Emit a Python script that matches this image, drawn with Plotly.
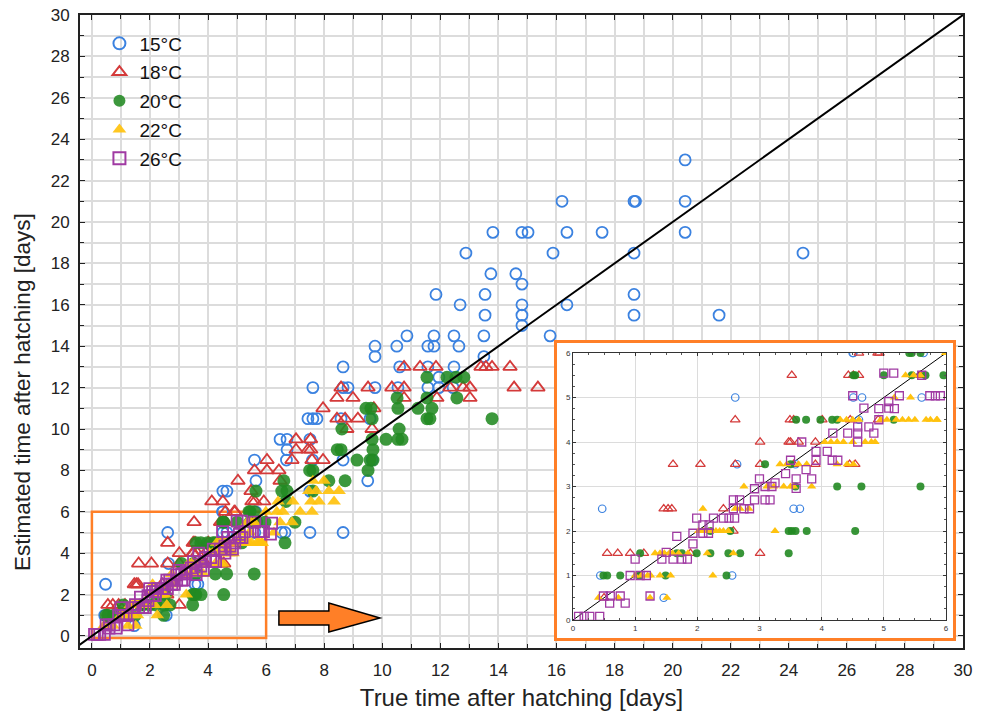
import plotly.graph_objects as go

# ---------------- data ----------------
x15 = [0.44, 0.47, 1.46, 2.56, 2.61, 2.64, 3.55, 3.58, 3.65, 4.5, 4.51, 4.6, 4.65, 5.61, 5.64,
       4.51, 4.51, 4.65, 5.65, 5.6, 6.53, 6.65, 7.51, 8.65, 7.51, 6.7, 7.6, 8.65, 9.65, 6.72,
       6.48, 6.72, 7.51, 7.44, 7.61, 7.75, 8.58, 9.58,
       7.61, 8.65, 8.82, 9.75, 10.54, 11.57, 11.95, 12.44, 11.95,
       8.65, 10.6, 11.57, 12.47, 9.75, 13.5,
       9.75, 10.5, 11.57, 11.78, 12.64,
       10.85, 11.78, 12.47, 13.5, 15.78, 14.81,
       13.54, 14.81, 18.67, 21.6, 12.68, 14.81, 16.36, 11.85, 13.54, 18.67, 14.81, 13.74, 14.6,
       12.88, 15.88, 18.67, 24.49, 13.81, 14.81, 15.02, 16.36, 17.57, 20.43,
       16.19, 18.67, 18.72, 20.43, 20.43, 9.5]
y15 = [1, 2.5, 0.5, 1, 5, 3.5, 2.5, 3.5, 2.5, 6, 5, 4.5, 5, 5, 6,
       6, 7, 7, 7.5, 8.5, 5, 5, 5, 5, 7, 8.5, 8.5, 8.5, 8.5, 9,
       9.5, 9.5, 9.5, 10.5, 10.5, 10.5, 10.5, 10.5,
       12, 12, 12, 12, 12, 12, 12, 12, 12.5,
       13, 13, 13, 13, 13.5, 13.5,
       14, 14, 14, 14, 14,
       14.5, 14.5, 14.5, 14.5, 14.5, 15,
       15.5, 15.5, 15.5, 15.5, 16, 16, 16, 16.5, 16.5, 16.5, 17, 17.5, 17.5,
       18.5, 18.5, 18.5, 18.5, 19.5, 19.5, 19.5, 19.5, 19.5, 19.5,
       21, 21, 21, 21, 23, 7.5]

x18 = [0.5, 0.55, 0.72, 0.92, 1.14, 1.89, 3.01, 1.46, 1.53, 1.59, 2.42, 2.58,
       1.61, 2.05, 2.61, 3.01, 3.55, 3.9, 4.45, 4.54,
       3.01, 3.47, 3.5, 3.63, 3.9,
       2.61, 3.49, 3.55, 4.01, 4.46, 4.91,
       3.52, 4.43, 4.51, 4.6, 5.59, 4.6, 4.9,
       4.93, 4.13, 4.51, 5.51, 5.61, 5.92, 5.48, 5.03, 6.48, 5.6, 6.03, 6.44,
       6.03, 6.89, 7.58, 7.96, 7.03, 7.44, 7.54, 7.03, 7.53,
       8.78, 9.65, 8.44, 8.72, 9.16, 7.96, 9.71, 8.44, 8.99, 10.75, 11.88, 13.02,
       8.58, 9.51, 10.33, 10.75, 12.33, 12.78, 13.02, 14.54, 15.36,
       10.75, 11.3, 11.85, 13.4, 13.57, 13.78, 14.4]
y18 = [0.5, 1.5, 1.5, 1.5, 1.5, 1.5, 1.5, 2.5, 2.5, 2.5, 2.5, 2,
       3.5, 3.5, 3.5, 3.5, 3.5, 3.5, 3.5, 3.5,
       4, 4, 4, 4, 4,
       4.5, 4.5, 4.5, 4.5, 4.5, 4.5,
       5.5, 5.5, 5.5, 5.5, 5.5, 6, 6,
       6, 6.5, 6.5, 6.5, 6.5, 6.5, 7, 7.5, 7.5, 8, 8, 8,
       8.5, 8.5, 8.5, 8.5, 9, 9, 9, 9.5, 9.5,
       10, 10, 10.5, 10.5, 10.5, 11, 11, 11.5, 11.5, 11.5, 11.5, 11.5,
       12, 12, 12, 12, 12, 12, 12, 12, 12,
       13, 13, 13, 13, 13, 13, 13]

x20 = [0.49, 0.55, 0.76, 1.07, 1.49, 2.47,
       1.08, 1.67, 1.75, 1.99, 2.21, 2.5, 2.69, 3.47,
       2.21, 2.53, 3.47, 3.52, 3.58, 3.76, 4.54,
       3.58, 4.25, 4.64, 5.59,
       3.09, 3.5,
       3.59, 3.75, 3.98, 4.17, 4.25, 5.16, 6.65,
       4.54, 5.0, 5.45, 5.67, 5.96, 4.51, 6.99,
       5.45, 5.59, 5.41,
       6.68, 5.65, 6.54, 6.72, 7.61, 6.61, 8.16, 8.72, 7.5, 7.61, 9.51,
       9.13, 9.58, 9.68, 8.45, 8.58, 9.68,
       9.65, 10.13, 10.54, 10.68, 8.61, 10.58,
       9.65, 11.54, 11.64, 13.78, 9.44, 9.61, 10.54, 11.23, 11.71,
       10.51, 11.54, 12.57, 11.54, 12.23, 12.54, 12.81]
y20 = [1, 1, 1, 1, 1, 1,
       1.5, 1.5, 1.5, 1.5, 1.5, 1.5, 1.5, 1.5,
       2, 2, 2, 2, 2, 2, 2,
       3, 3, 3, 3,
       3.5, 3.5,
       4.5, 4.5, 4.5, 4.5, 4.5, 4.5, 4.5,
       5.5, 5.5, 5.5, 5.5, 5.5, 5.5, 5.5,
       6, 6, 6,
       6.5, 7, 7, 7, 7, 7.5, 7.5, 7.5, 8, 8, 8,
       8.5, 8.5, 8.5, 9, 9, 9,
       9.5, 9.5, 9.5, 9.5, 10, 10,
       10.5, 10.5, 10.5, 10.5, 11, 11, 11, 11, 11,
       11.5, 11.5, 11.5, 12.5, 12.5, 12.5, 12.5]

x22 = [0.41, 0.73, 1.24, 1.51,
       1.0, 1.1, 1.2, 1.25, 1.4, 1.57, 2.25,
       1.32, 1.4, 1.47, 1.55, 1.6, 1.7, 1.85, 2.16, 2.58,
       2.02, 2.1, 2.2, 2.3, 2.36, 2.42, 2.5, 3.25,
       2.09, 2.61, 2.69, 2.83,
       2.75, 3.12, 3.23, 3.39, 3.5, 3.55, 3.84,
       3.33, 3.44, 3.63, 3.76, 4.25, 4.41, 4.51,
       4.05, 4.15, 4.25, 4.35, 4.5, 4.7, 4.8, 4.86,
       4.3, 4.4, 4.5, 4.6, 4.95, 5.05, 5.2, 5.3, 5.4, 5.5, 5.75, 5.85, 5.68, 5.86,
       5.17, 5.43, 6.27,
       5.35, 5.48, 5.59, 6.48, 6.89,
       5.99, 6.37, 6.58, 7.17, 7.58,
       6.41, 6.92, 7.54, 7.82, 8.34,
       7.47, 7.72, 8.16, 8.51,
       7.61, 7.99]
y22 = [0.5, 0.5, 0.5, 0.5,
       1, 1, 1, 1, 1, 1, 1,
       1.5, 1.5, 1.5, 1.5, 1.5, 1.5, 1.5, 1.5, 1.5,
       2, 2, 2, 2, 2, 2, 2, 2,
       2.5, 2.5, 2.5, 2.5,
       3, 3, 3, 3, 3, 3, 3,
       3.5, 3.5, 3.5, 3.5, 3.5, 3.5, 3.5,
       4, 4, 4, 4, 4, 4, 4, 4,
       4.5, 4.5, 4.5, 4.5, 4.5, 4.5, 4.5, 4.5, 4.5, 4.5, 4.5, 4.5, 4.5, 4.5,
       5, 5, 5,
       5.5, 5.5, 5.5, 5.5, 5.5,
       6, 6, 6, 6, 6,
       6.5, 6.5, 6.5, 6.5, 6.5,
       7, 7, 7, 7,
       7.5, 7.5]

x26 = [0.09, 0.18, 0.27, 0.43, 0.59, 0.84, 0.49, 0.6, 0.76, 1.24,
       0.92, 1.08, 1.18, 1.0, 1.43, 1.61, 1.75, 1.84, 1.5, 1.93, 1.67,
       1.93, 2.09, 2.18, 2.09, 2.19, 1.99, 2.26, 2.42, 2.51, 2.6,
       2.58, 2.75, 2.84, 2.58, 2.68, 2.92, 3.09, 3.17, 2.92, 3.09, 3.2, 3.59,
       3.0, 3.59, 3.84, 3.25, 3.42, 3.75,
       3.5, 3.91, 4.17, 4.26, 3.91, 4.09, 3.68, 4.58,
       4.18, 4.42, 4.58, 4.84, 4.58, 4.76, 4.92,
       4.68, 4.92, 5.08, 5.17, 5.08, 4.5, 5.25, 5.74, 5.83, 5.91,
       5.0, 5.16, 5.61, 6.15, 6.19]
y26 = [0.08, 0.08, 0.08, 0.08, 0.38, 0.38, 0.54, 0.54, 0.54, 0.54,
       1.0, 1.0, 1.0, 1.37, 1.37, 1.37, 1.37, 1.37, 1.52, 1.71, 1.88,
       1.95, 1.95, 1.95, 2.14, 2.14, 2.29, 2.29, 2.29, 2.29, 2.29,
       2.5, 2.5, 2.5, 2.7, 2.7, 2.7, 2.7, 2.7, 2.95, 3.0, 3.0, 2.96,
       3.17, 3.17, 3.17, 3.08, 3.29, 3.38,
       3.59, 3.59, 3.59, 3.59, 3.79, 3.79, 4.0, 4.0,
       4.2, 4.2, 4.2, 4.2, 4.34, 4.34, 4.5,
       4.76, 4.75, 4.76, 4.75, 4.91, 5.04, 5.04, 5.04, 5.04, 5.04,
       5.55, 5.55, 5.5, 4.92, 5.45]

series_names = ["15°C", "18°C", "20°C", "22°C", "26°C"]
series_x = [x15, x18, x20, x22, x26]
series_y = [y15, y18, y20, y22, y26]

identity = [-1, 30]
identity_inset = [0, 6]

x_title = "True time after hatching [days]"
y_title = "Estimated time after hatching [days]"

# ---------------- styles ----------------
BLUE = "#3b82e0"
RED = "#d43a3a"
GREEN = "#228a22"
YELLOW = "#ffc20e"
PURPLE = "#a03aa3"
ORANGE = "#ff7f27"
GRID = "#dcdcdc"

main_style = [
    dict(symbol="circle-open", size=11, color=BLUE, line=dict(width=1.8, color=BLUE)),
    dict(symbol="triangle-up-open", size=12, color=RED, line=dict(width=1.8, color=RED)),
    dict(symbol="circle", size=13, color=GREEN, opacity=0.88, line=dict(width=0)),
    dict(symbol="triangle-up", size=12, color=YELLOW, opacity=0.92, line=dict(width=0)),
    dict(symbol="square-open", size=11, color=PURPLE, line=dict(width=1.8, color=PURPLE)),
]
inset_style = [
    dict(symbol="circle-open", size=7.5, color=BLUE, line=dict(width=1.2, color=BLUE)),
    dict(symbol="triangle-up-open", size=8.5, color=RED, line=dict(width=1.2, color=RED)),
    dict(symbol="circle", size=8, color=GREEN, opacity=0.9, line=dict(width=0)),
    dict(symbol="triangle-up", size=8, color=YELLOW, line=dict(width=0)),
    dict(symbol="square-open", size=8, color=PURPLE, line=dict(width=1.3, color=PURPLE)),
]

fig = go.Figure()

for name, xs, ys, st in zip(series_names, series_x, series_y, main_style):
    fig.add_trace(go.Scatter(x=xs, y=ys, mode="markers", name=name, marker=st,
                             xaxis="x", yaxis="y", legendgroup=name))

fig.add_trace(go.Scatter(x=identity, y=identity, mode="lines", showlegend=False,
                         line=dict(color="black", width=2), xaxis="x", yaxis="y",
                         hoverinfo="skip"))

# white panel with orange frame that holds the inset
fig.add_trace(go.Scatter(x=[None], y=[None], mode="markers", showlegend=False,
                         xaxis="x2", yaxis="y2", hoverinfo="skip"))

fig.add_trace(go.Scatter(x=identity_inset, y=identity_inset, mode="lines", showlegend=False,
                         line=dict(color="black", width=1), xaxis="x3", yaxis="y3",
                         hoverinfo="skip"))
for name, xs, ys, st in zip(series_names, series_x, series_y, inset_style):
    fig.add_trace(go.Scatter(x=xs, y=ys, mode="markers", name=name, marker=st,
                             xaxis="x3", yaxis="y3", showlegend=False))

FONT = "Liberation Sans, Arial, sans-serif"

main_axis = dict(
    tickmode="linear", tick0=0, dtick=2,
    ticks="inside", ticklen=5, tickwidth=1, tickcolor="#222",
    showline=True, linecolor="#222", linewidth=2, mirror="allticks",
    showgrid=True, gridcolor=GRID, gridwidth=1.5,
    zeroline=False, automargin=False,
    tickfont=dict(size=17, color="#222", family=FONT),
    minor=dict(tick0=0, dtick=1, ticks="inside", ticklen=4, tickcolor="#222",
               showgrid=True, gridcolor=GRID, gridwidth=1.5),
)

# paper coords for the inset and its frame
xd_frame = [0.540, 0.9887]
yd_frame = [0.0158, 0.4818]
xd_inset = [0.5583, 0.9807]
yd_inset = [0.0442, 0.466]

fig.update_layout(
    width=988, height=712,
    margin=dict(l=80, r=25, t=15, b=64),
    paper_bgcolor="white", plot_bgcolor="white",
    font=dict(family=FONT, color="#222"),
    showlegend=True,
    legend=dict(x=0.022, y=0.985, xanchor="left", yanchor="top",
                bgcolor="rgba(0,0,0,0)", font=dict(size=19, color="#111", family=FONT),
                itemsizing="constant", tracegroupgap=1),
    xaxis=dict(main_axis, range=[-0.41, 30], domain=[0, 1], anchor="y", ticklabelstandoff=6,
               title=dict(text=x_title, font=dict(size=24, family=FONT), standoff=10)),
    yaxis=dict(main_axis, range=[-0.58, 30], domain=[0, 1], anchor="x", ticklabelstandoff=5),
    xaxis2=dict(domain=xd_frame, anchor="y2", range=[0, 1], showgrid=False, zeroline=False,
                showticklabels=False, ticks="", showline=True, linecolor=ORANGE, linewidth=3,
                mirror=True, fixedrange=True),
    yaxis2=dict(domain=yd_frame, anchor="x2", range=[0, 1], showgrid=False, zeroline=False,
                showticklabels=False, ticks="", showline=True, linecolor=ORANGE, linewidth=3,
                mirror=True, fixedrange=True),
    xaxis3=dict(domain=xd_inset, anchor="y3", range=[0, 6], tickmode="linear", tick0=0, dtick=1,
                ticks="inside", ticklen=3, tickcolor="#333", showline=True, linecolor="#333",
                linewidth=1, mirror="allticks", showgrid=True, gridcolor=GRID, gridwidth=1,
                zeroline=False, tickfont=dict(size=8, color="#333", family=FONT),
                minor=dict(dtick=0.25, ticks="inside", ticklen=2, tickcolor="#555")),
    yaxis3=dict(domain=yd_inset, anchor="x3", range=[0, 6], tickmode="linear", tick0=0, dtick=1,
                ticks="inside", ticklen=3, tickcolor="#333", showline=True, linecolor="#333",
                linewidth=1, mirror="allticks", showgrid=True, gridcolor=GRID, gridwidth=1,
                zeroline=False, tickfont=dict(size=8, color="#333", family=FONT),
                minor=dict(dtick=0.25, ticks="inside", ticklen=2, tickcolor="#555")),
)

# y-axis title (placed as in the reference, below the axis centre)
fig.add_annotation(text=y_title, xref="paper", yref="paper", x=-0.0657, y=0.4044,
                   xanchor="center", yanchor="middle", textangle=-90, showarrow=False,
                   font=dict(size=22.5, family=FONT, color="#222"))

# orange box marking the zoomed region on the main plot
fig.add_shape(type="rect", xref="x", yref="y", x0=0, y0=-0.1, x1=6, y1=6,
              line=dict(color=ORANGE, width=2.5), fillcolor="rgba(0,0,0,0)", layer="between")

# arrow pointing to the inset
fig.add_shape(type="path", xref="x", yref="y",
              path="M 6.44 1.21 L 8.16 1.21 L 8.16 1.59 L 9.92 0.87 L 8.16 0.19 L 8.16 0.53 L 6.44 0.53 Z",
              fillcolor=ORANGE, line=dict(color="black", width=1.5), layer="above")

fig.write_html("out.html")
